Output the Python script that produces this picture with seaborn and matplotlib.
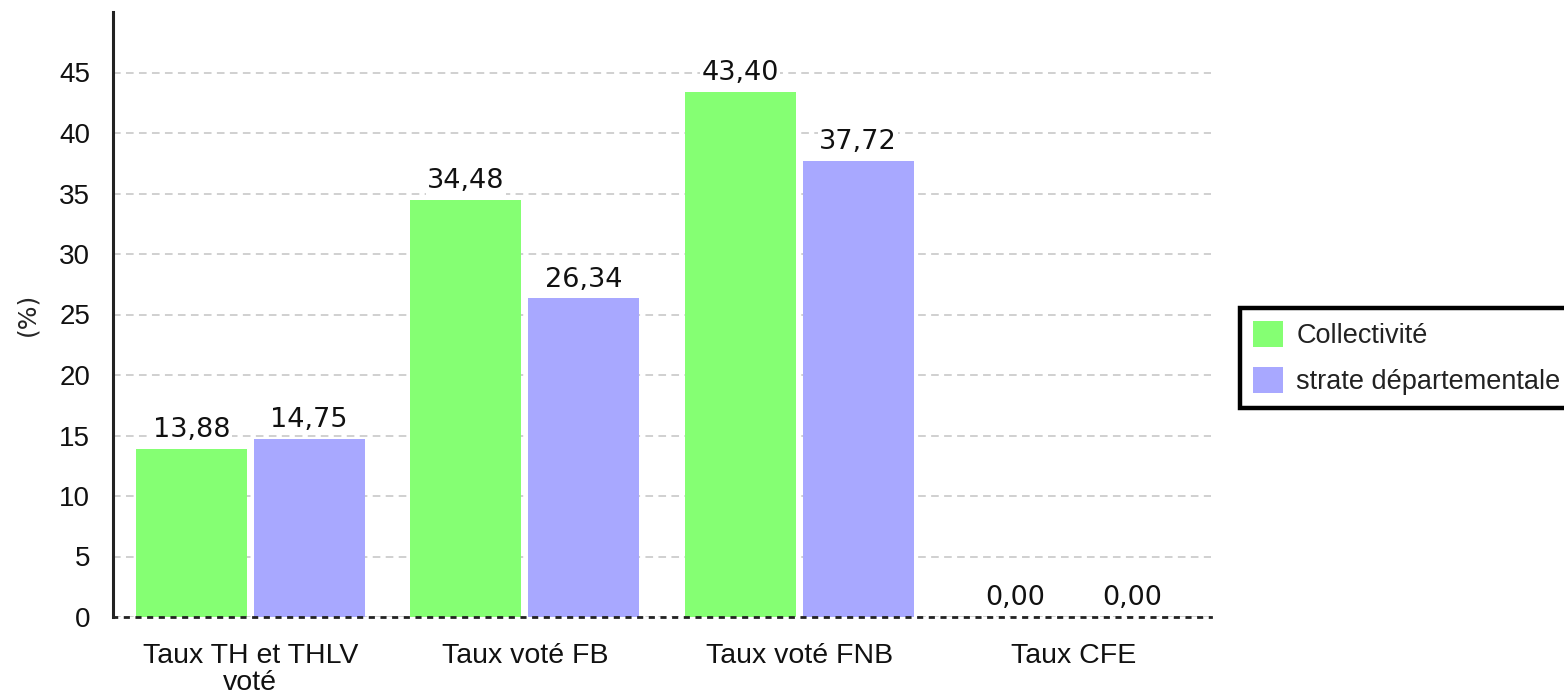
import matplotlib
matplotlib.use("Agg")
import matplotlib.pyplot as plt
import seaborn as sns
import pandas as pd

categories = ["Taux TH et THLV\nvoté", "Taux voté FB", "Taux voté FNB", "Taux CFE"]
series_names = ["Collectivité", "strate départementale"]
collectivite = [13.88, 34.48, 43.40, 0.00]
strate = [14.75, 26.34, 37.72, 0.00]
colors = ["#85FF73", "#A8A8FF"]
yticks = [0, 5, 10, 15, 20, 25, 30, 35, 40, 45]

df = pd.DataFrame({
    "cat": categories * 2,
    "serie": [series_names[0]] * 4 + [series_names[1]] * 4,
    "val": collectivite + strate,
})

sns.set_theme(style="white")
plt.rcParams["font.family"] = ["Liberation Sans", "DejaVu Sans"]

W, H = 1564, 698
fig = plt.figure(figsize=(W / 100, H / 100), dpi=100)
ax = fig.add_axes([113 / W, 1 - 617 / H, (1211 - 113) / W, (617 - 12) / H])

sns.barplot(data=df, x="cat", y="val", hue="serie", order=categories,
            hue_order=series_names, palette=colors, width=0.857, gap=0.057,
            saturation=1, ax=ax, legend=True, edgecolor="none", linewidth=0)

ax.set_xlim(-0.5, 3.5)
ax.set_ylim(0, 50)
ax.set_yticks(yticks)
ax.set_yticklabels([str(t) for t in yticks])
ax.set_xlabel("")
ax.set_ylabel("(%)", fontsize=18, family="DejaVu Sans", labelpad=14)

ax.yaxis.grid(True, color="#c4c4c4", linestyle=(0, (5, 3.5)), linewidth=1.1)
ax.set_axisbelow(True)

for s in ["top", "right"]:
    ax.spines[s].set_visible(False)
ax.spines["left"].set_color("#222222")
ax.spines["left"].set_linewidth(2.2)
ax.spines["bottom"].set_color("#222222")
ax.spines["bottom"].set_linewidth(2.0)
ax.spines["bottom"].set_linestyle((0, (1.2, 3)))

ax.tick_params(axis="both", which="both", direction="out", length=6, width=1.6,
               color="#222222", labelsize=20, labelcolor="#111111")
ax.tick_params(axis="y", pad=10.5)
ax.tick_params(axis="x", pad=13, labelsize=20.5)
for t in ax.get_xticklabels():
    t.set_linespacing(1.05)

for cont in ax.containers:
    labels = [f"{v:.2f}".replace(".", ",") for v in cont.datavalues]
    texts = ax.bar_label(cont, labels=labels, padding=4, fontsize=19.5,
                         family="DejaVu Sans", color="#111111")
    for t in texts:
        t.set_bbox(dict(facecolor="white", edgecolor="none", pad=1))

handles, labs = ax.get_legend_handles_labels()
if ax.get_legend() is not None:
    ax.get_legend().remove()
leg = fig.legend(handles, labs, loc="upper left",
                 bbox_to_anchor=(1240 / W, 1 - 308 / H), bbox_transform=fig.transFigure,
                 borderaxespad=0, fontsize=19.5, handlelength=1.1, handleheight=1.1,
                 handletextpad=0.5, borderpad=0.48, labelspacing=0.65,
                 fancybox=False, framealpha=1, edgecolor="black")
leg.get_frame().set_linewidth(3.2)
for t in leg.get_texts():
    t.set_color("#222222")

fig.savefig("out.png", dpi=100)
